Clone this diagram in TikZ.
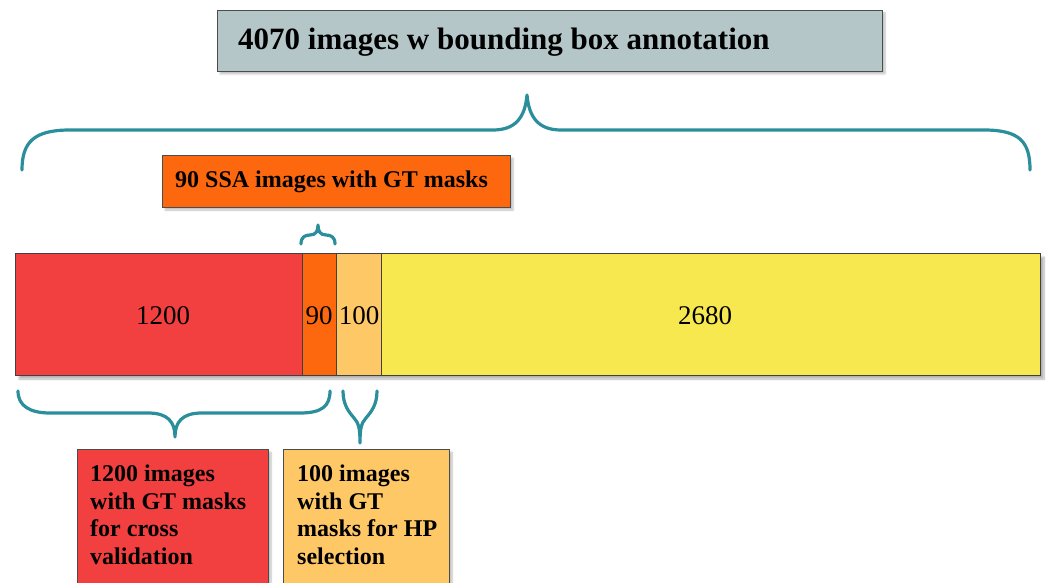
\documentclass[tikz,border=0pt]{standalone}
\usepackage{fontspec}
\setmainfont{Liberation Serif}
\usetikzlibrary{shadows.blur}
\definecolor{boxgray}{HTML}{B4C6C8}
\definecolor{ssaorange}{HTML}{FD680F}
\definecolor{cvred}{HTML}{F23F40}
\definecolor{hpamber}{HTML}{FEC866}
\definecolor{restyellow}{HTML}{F8E84F}
\definecolor{braceteal}{HTML}{2A8E9B}
\begin{document}
\begin{tikzpicture}[x=1pt,y=-1pt,
  block/.style={draw=black!70,line width=0.8pt,inner sep=0pt,
    blur shadow={shadow xshift=3pt,shadow yshift=-3pt,shadow blur steps=6,shadow opacity=25}},
  seg/.style={draw=black!75,line width=0.8pt,inner sep=0pt},
  brace/.style={draw=braceteal,line width=3.2pt,line cap=round,line join=round},
  title/.style={font=\bfseries\fontsize{31}{35}\selectfont,inner sep=0pt},
  caption/.style={font=\bfseries\fontsize{24}{27.5}\selectfont,align=left,inner sep=0pt},
  count/.style={font=\fontsize{27}{30}\selectfont}]
\useasboundingbox (0,0) rectangle (1046,583);

% top summary box
\path[block,fill=boxgray] (217,10) rectangle (882,71);
\node[title,anchor=west] (total) at (238,42) {4070 images w bounding box annotation};

% brace spanning the whole set
\path[brace] (22,170) .. controls (22,142) and (34,130) .. (70,130) -- (493,130)
  .. controls (515,130) and (525,118) .. (527,95)
  .. controls (529,118) and (539,130) .. (561,130) -- (984,130)
  .. controls (1020,130) and (1030,142) .. (1030,170);

% SSA label
\path[block,fill=ssaorange] (162,155) rectangle (510,207);
\node[font=\bfseries\fontsize{24}{28}\selectfont,anchor=west,inner sep=0pt] (ssa) at (175,182) {90 SSA images with GT masks};

% small brace over the 90 segment
\path[brace] (301,244) .. controls (301,237) and (305,235) .. (310,235)
  .. controls (316,235) and (318,231) .. (318,225)
  .. controls (318,231) and (320,235) .. (326,235)
  .. controls (331,235) and (335,237) .. (335,244);

% the split bar
\path[blur shadow={shadow xshift=4pt,shadow yshift=-4pt,shadow blur steps=8,shadow opacity=30},fill=restyellow] (15,253) rectangle (1040,375);
\path[seg,fill=cvred] (15,253) rectangle (302,375);
\path[seg,fill=ssaorange] (302,253) rectangle (336,375);
\path[seg,fill=hpamber] (336,253) rectangle (381,375);
\path[seg,fill=restyellow] (381,253) rectangle (1040,375);
\node[count] (n1200) at (163,316) {1200};
\node[count] (n90) at (319,316) {90};
\node[count] (n100) at (359,316) {100};
\node[count] (n2680) at (705,316) {2680};

% brace under the 1200 segment
\path[brace] (18,391) .. controls (18,406) and (30,413) .. (50,413) -- (148,413)
  .. controls (168,413) and (175,422) .. (175,437)
  .. controls (175,422) and (182,413) .. (202,413) -- (300,413)
  .. controls (322,413) and (330,406) .. (330,391);

% brace under the 100 segment
\path[brace] (343,391) .. controls (343,405) and (349,412) .. (354,418)
  .. controls (359,423) and (360,430) .. (360,443)
  .. controls (360,430) and (361,423) .. (366,418)
  .. controls (371,412) and (377,405) .. (377,391);

% captions below the bar
\path[block,fill=cvred] (77,449) rectangle (268,600);
\node[caption,anchor=north west] (cv) at (90,465) {1200 images\\with GT masks\\for cross\\validation};
\path[block,fill=hpamber] (283,449) rectangle (449,600);
\node[caption,anchor=north west] (hp) at (297,465) {100 images\\with GT\\masks for HP\\selection};
\end{tikzpicture}
\end{document}
